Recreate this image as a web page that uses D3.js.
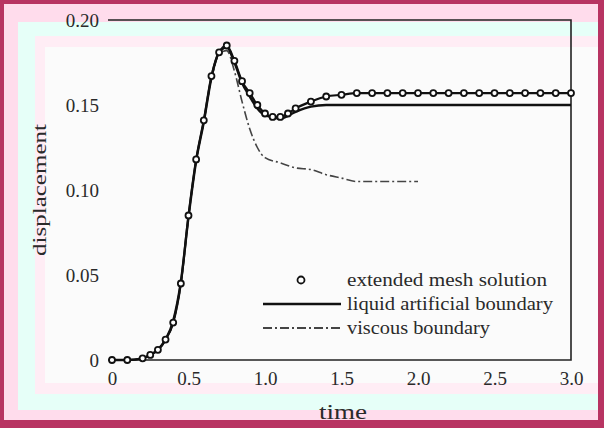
<!DOCTYPE html>
<html>
<head>
<meta charset="utf-8">
<script src="https://cdn.jsdelivr.net/npm/d3@7"></script>
<style>
  html, body { margin: 0; padding: 0; background: #fff; }
  svg { display: block; font-family: "Liberation Serif", "DejaVu Serif", serif; }
</style>
</head>
<body>
<svg id="chart" width="604" height="428"></svg>
<script>
// series: extended mesh solution (with markers)
const extTime = [0, 0.1, 0.2, 0.25, 0.3, 0.35, 0.4, 0.45, 0.5, 0.55, 0.6, 0.65, 0.7, 0.75, 0.8, 0.85, 0.9, 0.95, 1.0, 1.05, 1.1, 1.15, 1.2, 1.3, 1.4, 1.5, 1.6, 1.7, 1.8, 1.9, 2.0, 2.1, 2.2, 2.3, 2.4, 2.5, 2.6, 2.7, 2.8, 2.9, 3.0];
const extValues = [0, 0, 0.001, 0.003, 0.006, 0.012, 0.022, 0.045, 0.085, 0.118, 0.141, 0.167, 0.181, 0.185, 0.176, 0.164, 0.157, 0.150, 0.145, 0.143, 0.143, 0.145, 0.148, 0.152, 0.155, 0.156, 0.157, 0.157, 0.157, 0.157, 0.157, 0.157, 0.157, 0.157, 0.157, 0.157, 0.157, 0.157, 0.157, 0.157, 0.157];

// series: liquid artificial boundary
const liqTime = [0, 0.1, 0.2, 0.25, 0.3, 0.35, 0.4, 0.45, 0.5, 0.55, 0.6, 0.65, 0.7, 0.75, 0.8, 0.85, 0.9, 0.95, 1.0, 1.1, 1.2, 1.3, 1.4, 1.6, 2.0, 2.5, 3.0];
const liqValues = [0, 0, 0.001, 0.003, 0.006, 0.012, 0.023, 0.046, 0.084, 0.117, 0.140, 0.166, 0.181, 0.184, 0.175, 0.163, 0.155, 0.148, 0.144, 0.142, 0.146, 0.149, 0.150, 0.150, 0.150, 0.150, 0.150];

// series: viscous boundary
const viscTime = [0, 0.1, 0.2, 0.25, 0.3, 0.35, 0.4, 0.45, 0.5, 0.55, 0.6, 0.65, 0.7, 0.75, 0.8, 0.85, 0.9, 0.95, 1.0, 1.1, 1.2, 1.3, 1.4, 1.5, 1.6, 1.8, 2.0];
const viscValues = [0, 0, 0.001, 0.003, 0.006, 0.012, 0.022, 0.045, 0.084, 0.117, 0.140, 0.165, 0.180, 0.182, 0.170, 0.152, 0.136, 0.125, 0.119, 0.116, 0.113, 0.112, 0.109, 0.107, 0.105, 0.105, 0.105];

const xTicks = [0, 0.5, 1.0, 1.5, 2.0, 2.5, 3.0];
const yTicks = [0, 0.05, 0.10, 0.15, 0.20];
const legendLabels = ['extended mesh solution', 'liquid artificial boundary', 'viscous boundary'];

const svg = d3.select('#chart');

// page bands
svg.append('rect').attr('width', 604).attr('height', 428).attr('fill', '#b83462');
svg.append('rect').attr('x', 4).attr('y', 4).attr('width', 594).attr('height', 416).attr('fill', '#ffdcec');
svg.append('rect').attr('x', 18).attr('y', 22).attr('width', 580).attr('height', 388).attr('fill', '#e6fff8');
svg.append('rect').attr('x', 35).attr('y', 36).attr('width', 563).attr('height', 358).attr('fill', '#ffedf5');
svg.append('rect').attr('x', 45).attr('y', 47).attr('width', 553).attr('height', 336).attr('fill', '#fbfbfb');

const x = d3.scaleLinear().domain([0, 3]).range([112, 571]);
const y = d3.scaleLinear().domain([0, 0.2]).range([360, 20]);

// axes
svg.append('g')
  .attr('transform', 'translate(0,360)')
  .call(d3.axisBottom(x)
    .tickValues(xTicks)
    .tickSize(0)
    .tickPadding(12)
    .tickFormat(d => d === 0 ? '0' : d3.format('.1f')(d)))
  .call(g => g.select('.domain').remove())
  .selectAll('text')
  .attr('font-family', '"Liberation Serif", serif')
  .attr('font-size', 19)
  .attr('fill', '#2a2a2a');

svg.append('g')
  .attr('transform', 'translate(108,0)')
  .call(d3.axisLeft(y)
    .tickValues(yTicks)
    .tickSize(0)
    .tickPadding(9)
    .tickFormat(d => d === 0 ? '0' : d3.format('.2f')(d)))
  .call(g => g.select('.domain').remove())
  .selectAll('text')
  .attr('font-family', '"Liberation Serif", serif')
  .attr('font-size', 19)
  .attr('fill', '#2a2a2a');

// frame: top, right, bottom
svg.append('path')
  .attr('d', `M108,${y(0.2)}H${x(3)}V${y(0)}H108`)
  .attr('fill', 'none')
  .attr('stroke', '#222')
  .attr('stroke-width', 1.6);

// axis titles
svg.append('text')
  .attr('x', 343).attr('y', 419)
  .attr('text-anchor', 'middle')
  .attr('font-size', 20)
  .attr('textLength', 48)
  .attr('lengthAdjust', 'spacingAndGlyphs')
  .attr('fill', '#2a2a2a')
  .text('time');

svg.append('text')
  .attr('transform', 'translate(46,190) rotate(-90)')
  .attr('text-anchor', 'middle')
  .attr('font-size', 19)
  .attr('textLength', 132)
  .attr('lengthAdjust', 'spacingAndGlyphs')
  .attr('fill', '#2a2a2a')
  .text('displacement');

// lines
const line = d3.line()
  .x(d => x(d[0]))
  .y(d => y(d[1]))
  .curve(d3.curveMonotoneX);

const ext = d3.zip(extTime, extValues);
const liq = d3.zip(liqTime, liqValues);
const visc = d3.zip(viscTime, viscValues);

svg.append('path')
  .datum(visc)
  .attr('d', line)
  .attr('fill', 'none')
  .attr('stroke', '#444')
  .attr('stroke-width', 1.6)
  .attr('stroke-dasharray', '9,3,2,3');

svg.append('path')
  .datum(liq)
  .attr('d', line)
  .attr('fill', 'none')
  .attr('stroke', '#111')
  .attr('stroke-width', 2.4);

svg.append('path')
  .datum(ext)
  .attr('d', line)
  .attr('fill', 'none')
  .attr('stroke', '#111')
  .attr('stroke-width', 2.2);

svg.append('g')
  .selectAll('circle')
  .data(ext)
  .join('circle')
  .attr('cx', d => x(d[0]))
  .attr('cy', d => y(d[1]))
  .attr('r', 3)
  .attr('fill', '#fff')
  .attr('stroke', '#111')
  .attr('stroke-width', 1.8);

// legend
const legend = svg.append('g').attr('font-size', 18).attr('fill', '#2a2a2a');
const rowY = [280, 304, 328];
const textLen = [200, 206, 143];

legend.append('circle')
  .attr('cx', 301).attr('cy', rowY[0])
  .attr('r', 3.5)
  .attr('fill', '#fff')
  .attr('stroke', '#111')
  .attr('stroke-width', 1.8);

legend.append('line')
  .attr('x1', 263).attr('x2', 341)
  .attr('y1', rowY[1]).attr('y2', rowY[1])
  .attr('stroke', '#111').attr('stroke-width', 2.4);

legend.append('line')
  .attr('x1', 263).attr('x2', 341)
  .attr('y1', rowY[2]).attr('y2', rowY[2])
  .attr('stroke', '#444').attr('stroke-width', 1.8)
  .attr('stroke-dasharray', '9,3,2,3');

legend.selectAll('text')
  .data(legendLabels)
  .join('text')
  .attr('x', 347)
  .attr('y', (d, i) => rowY[i] + 6)
  .attr('textLength', (d, i) => textLen[i])
  .attr('lengthAdjust', 'spacingAndGlyphs')
  .text(d => d);
</script>
</body>
</html>
